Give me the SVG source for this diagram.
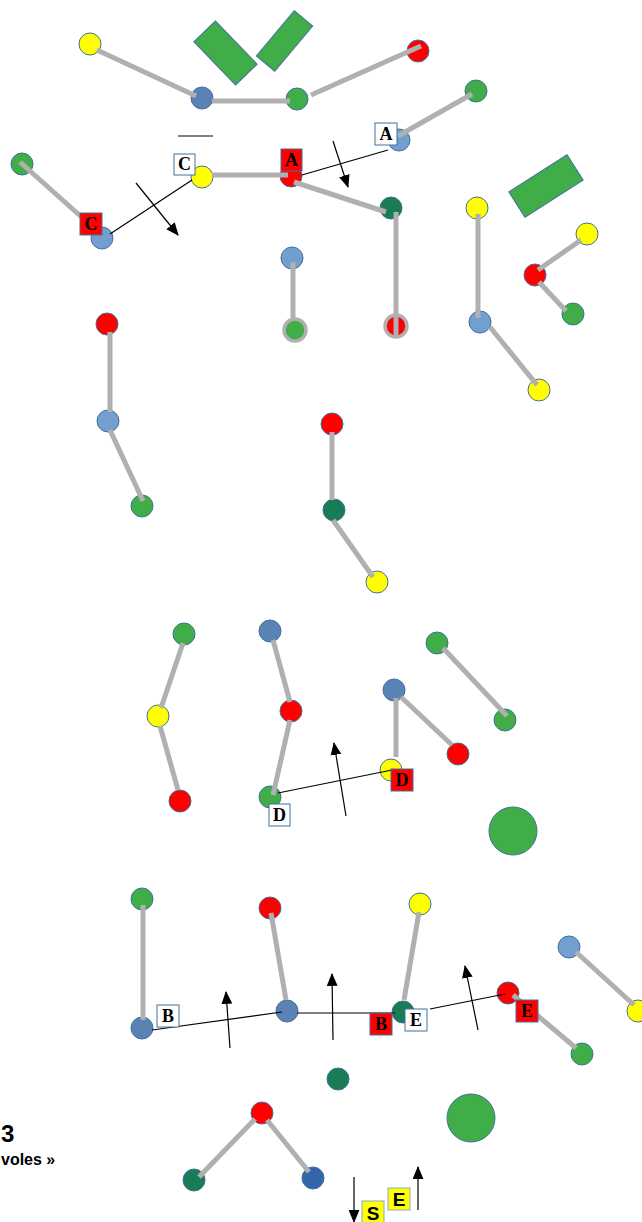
<svg xmlns="http://www.w3.org/2000/svg" width="642" height="1222" viewBox="0 0 642 1222">
<defs>
<marker id="ah" viewBox="0 0 12 10" refX="11" refY="5" markerWidth="13" markerHeight="11" markerUnits="userSpaceOnUse" orient="auto">
<path d="M0,0 L12,5 L0,10 Z" fill="#000"/>
</marker>
</defs>
<style>
.n{stroke:#41719c;stroke-width:1}
.y{fill:#ffff00}.r{fill:#ff0000}.g{fill:#41ad49}.lb{fill:#729fcf}.sb{fill:#5a82b5}.dg{fill:#1a7c56}.db{fill:#3366a8}
.ring{stroke:#b0b0b0;stroke-width:3.5}
.e{stroke:#b0b0b0;stroke-width:5;fill:none}
.t{stroke:#000;stroke-width:1.2;fill:none}
.a{stroke:#000;stroke-width:1.2;fill:none;marker-end:url(#ah)}
.rect{fill:#41ad49;stroke:#41719c;stroke-width:1}
.lw{fill:#fff;stroke:#41719c;stroke-width:1}
.lr{fill:#ff0000;stroke:#41719c;stroke-width:1}
.ly{fill:#ffff00;stroke:#8aa8c8;stroke-width:1}
.lt{font-family:"Liberation Serif",serif;font-weight:bold;font-size:18px;text-anchor:middle;fill:#000}
.st{font-family:"Liberation Sans",sans-serif;font-weight:bold;font-size:19px;text-anchor:middle;fill:#000}
.cap{font-family:"Liberation Sans",sans-serif;font-weight:bold;fill:#000}
</style>

<g id="shapes">
<rect class="rect" x="-30" y="-15" width="60" height="30" transform="translate(225.5,53) rotate(46)"/>
<rect class="rect" x="-29.5" y="-12" width="59" height="24" transform="translate(284.5,41) rotate(-50)"/>
<rect class="rect" x="-34.5" y="-15" width="69" height="30" transform="translate(546,186) rotate(-32.5)"/>
<circle id="big1" class="n g" cx="513" cy="831" r="24"/>
<circle id="big2" class="n g" cx="471" cy="1118" r="24"/>
</g>

<g id="nodes">
<g id="n1"><circle class="n y" cx="90" cy="44" r="11"/></g>
<g id="n2"><circle class="n sb" cx="202" cy="98" r="11"/></g>
<g id="n3"><circle class="n g" cx="297" cy="99" r="11"/></g>
<g id="n4"><circle class="n r" cx="418" cy="51" r="11"/></g>
<g id="n5"><circle class="n g" cx="22" cy="164" r="11"/></g>
<g id="n6"><circle class="n lb" cx="102" cy="238" r="11"/></g>
<g id="n7"><circle class="n y" cx="202" cy="177" r="11"/></g>
<g id="n8"><circle class="n r" cx="291" cy="176" r="11"/></g>
<g id="n9"><circle class="n dg" cx="391" cy="208" r="11"/></g>
<g id="n10"><circle class="n lb" cx="399" cy="140" r="11"/></g>
<g id="n11"><circle class="n g" cx="476" cy="91" r="11"/></g>
<g id="n12"><circle class="ring r" cx="396" cy="326" r="11"/></g>
<g id="n13"><circle class="n lb" cx="292" cy="258" r="11"/></g>
<g id="n14"><circle class="ring g" cx="295" cy="330" r="11"/></g>
<g id="n15"><circle class="n y" cx="477" cy="208" r="11"/></g>
<g id="n16"><circle class="n lb" cx="480" cy="322" r="11"/></g>
<g id="n17"><circle class="n y" cx="539" cy="390" r="11"/></g>
<g id="n18"><circle class="n r" cx="535" cy="275" r="11"/></g>
<g id="n19"><circle class="n y" cx="587" cy="234" r="11"/></g>
<g id="n20"><circle class="n g" cx="573" cy="314" r="11"/></g>
<g id="n21"><circle class="n r" cx="107" cy="324" r="11"/></g>
<g id="n22"><circle class="n lb" cx="108" cy="421" r="11"/></g>
<g id="n23"><circle class="n g" cx="142" cy="506" r="11"/></g>
<g id="n24"><circle class="n r" cx="332" cy="424" r="11"/></g>
<g id="n25"><circle class="n dg" cx="334" cy="510" r="11"/></g>
<g id="n26"><circle class="n y" cx="377" cy="582" r="11"/></g>
<g id="n27"><circle class="n g" cx="184" cy="634" r="11"/></g>
<g id="n28"><circle class="n y" cx="158" cy="716" r="11"/></g>
<g id="n29"><circle class="n r" cx="180" cy="801" r="11"/></g>
<g id="n30"><circle class="n sb" cx="270" cy="631" r="11"/></g>
<g id="n31"><circle class="n r" cx="291" cy="711" r="11"/></g>
<g id="n32"><circle class="n g" cx="270" cy="797" r="11"/></g>
<g id="n33"><circle class="n y" cx="391" cy="770" r="11"/></g>
<g id="n34"><circle class="n sb" cx="394" cy="690" r="11"/></g>
<g id="n35"><circle class="n r" cx="458" cy="754" r="11"/></g>
<g id="n36"><circle class="n g" cx="437" cy="643" r="11"/></g>
<g id="n37"><circle class="n g" cx="505" cy="720" r="11"/></g>
<g id="n38"><circle class="n g" cx="142" cy="899" r="11"/></g>
<g id="n39"><circle class="n sb" cx="142" cy="1028" r="11"/></g>
<g id="n40"><circle class="n r" cx="270" cy="908" r="11"/></g>
<g id="n41"><circle class="n sb" cx="287" cy="1011" r="11"/></g>
<g id="n42"><circle class="n y" cx="420" cy="904" r="11"/></g>
<g id="n43"><circle class="n dg" cx="403" cy="1012" r="11"/></g>
<g id="n44"><circle class="n r" cx="508" cy="993" r="11"/></g>
<g id="n45"><circle class="n g" cx="582" cy="1054" r="11"/></g>
<g id="n46"><circle class="n lb" cx="569" cy="947" r="11"/></g>
<g id="n47"><circle class="n y" cx="638" cy="1011" r="11"/></g>
<g id="n48"><circle class="n dg" cx="338" cy="1079" r="11"/></g>
<g id="n49"><circle class="n r" cx="262" cy="1113" r="11"/></g>
<g id="n50"><circle class="n dg" cx="194" cy="1180" r="11"/></g>
<g id="n51"><circle class="n db" cx="313" cy="1178" r="11"/></g>
</g>

<g id="connectors">
<line class="e" x1="97" y1="50" x2="196" y2="96"/>
<line class="e" x1="212" y1="101" x2="290" y2="101"/>
<line class="e" x1="311" y1="95" x2="421" y2="46"/>
<line class="e" x1="20" y1="162" x2="86" y2="221"/>
<line class="e" x1="212" y1="175" x2="288" y2="175"/>
<line class="e" x1="294" y1="182" x2="386" y2="212"/>
<line class="e" x1="398" y1="136" x2="472" y2="94"/>
<line class="e" x1="396" y1="212" x2="396" y2="336"/>
<line class="e" x1="293" y1="262" x2="293" y2="320"/>
<line class="e" x1="478" y1="214" x2="478" y2="318"/>
<line class="e" x1="490" y1="327" x2="537" y2="385"/>
<line class="e" x1="538" y1="270" x2="581" y2="240"/>
<line class="e" x1="539" y1="282" x2="566" y2="311"/>
<line class="e" x1="110" y1="332" x2="110" y2="412"/>
<line class="e" x1="110" y1="430" x2="143" y2="501"/>
<line class="e" x1="332" y1="432" x2="332" y2="500"/>
<line class="e" x1="333" y1="520" x2="373" y2="577"/>
<line class="e" x1="183" y1="643" x2="161" y2="708"/>
<line class="e" x1="160" y1="726" x2="178" y2="790"/>
<line class="e" x1="273" y1="640" x2="290" y2="702"/>
<line class="e" x1="290" y1="720" x2="273" y2="795"/>
<line class="e" x1="396" y1="698" x2="396" y2="757"/>
<line class="e" x1="401" y1="697" x2="452" y2="745"/>
<line class="e" x1="443" y1="648" x2="507" y2="716"/>
<line class="e" x1="143" y1="905" x2="143" y2="1020"/>
<line class="e" x1="271" y1="913" x2="286" y2="1000"/>
<line class="e" x1="419" y1="912" x2="404" y2="1000"/>
<line class="e" x1="513" y1="995" x2="576" y2="1048"/>
<line class="e" x1="576" y1="952" x2="634" y2="1005"/>
<line class="e" x1="255" y1="1119" x2="199" y2="1177"/>
<line class="e" x1="267" y1="1120" x2="309" y2="1172"/>

<line class="t" x1="178" y1="136" x2="213" y2="136"/>
<line class="t" x1="110" y1="234" x2="192" y2="180"/>
<line class="t" x1="302" y1="175" x2="388" y2="150"/>
<line class="t" x1="278" y1="793" x2="392" y2="770"/>
<line class="t" x1="152" y1="1030" x2="282" y2="1012"/>
<line class="t" x1="297" y1="1013" x2="395" y2="1013"/>
<line class="t" x1="430" y1="1009" x2="505" y2="994"/>

<line class="a" x1="136" y1="183" x2="178" y2="235"/>
<line class="a" x1="333" y1="141" x2="348" y2="187"/>
<line class="a" x1="346" y1="816" x2="334" y2="743"/>
<line class="a" x1="230" y1="1048" x2="226" y2="992"/>
<line class="a" x1="333" y1="1040" x2="332" y2="974"/>
<line class="a" x1="478" y1="1030" x2="465" y2="966"/>
<line class="a" x1="354" y1="1177" x2="354" y2="1222"/>
<line class="a" x1="418" y1="1210" x2="418" y2="1167"/>
</g>

<g id="labels">
<g id="lC1"><rect class="lr" x="80" y="213" width="22" height="22"/><text class="lt" x="91" y="230">C</text></g>
<g id="lC2"><rect class="lw" x="174" y="154" width="21" height="21"/><text class="lt" x="184.5" y="170">C</text></g>
<g id="lA1"><rect class="lr" x="281" y="149" width="21" height="22"/><text class="lt" x="291.5" y="166">A</text></g>
<g id="lA2"><rect class="lw" x="375" y="123" width="22" height="22"/><text class="lt" x="386" y="140">A</text></g>
<g id="lD1"><rect class="lw" x="269" y="804" width="21" height="22"/><text class="lt" x="279.5" y="821">D</text></g>
<g id="lD2"><rect class="lr" x="391" y="769" width="22" height="22"/><text class="lt" x="402" y="786">D</text></g>
<g id="lB1"><rect class="lw" x="157" y="1005" width="22" height="22"/><text class="lt" x="168" y="1022">B</text></g>
<g id="lB2"><rect class="lr" x="370" y="1013" width="22" height="22"/><text class="lt" x="381" y="1030">B</text></g>
<g id="lE1"><rect class="lw" x="405" y="1009" width="22" height="22"/><text class="lt" x="416" y="1026">E</text></g>
<g id="lE2"><rect class="lr" x="516" y="1000" width="22" height="22"/><text class="lt" x="527" y="1017">E</text></g>
<g id="lS"><rect class="ly" x="362" y="1201" width="22" height="24"/><text class="st" x="373" y="1220">S</text></g>
<g id="lE3"><rect class="ly" x="388" y="1188" width="22" height="22"/><text class="st" x="399" y="1206">E</text></g>
</g>

<g id="caption">
<text class="cap" x="1" y="1142" font-size="24">3</text>
<text class="cap" x="1" y="1165" font-size="16">voles »</text>
</g>
</svg>
